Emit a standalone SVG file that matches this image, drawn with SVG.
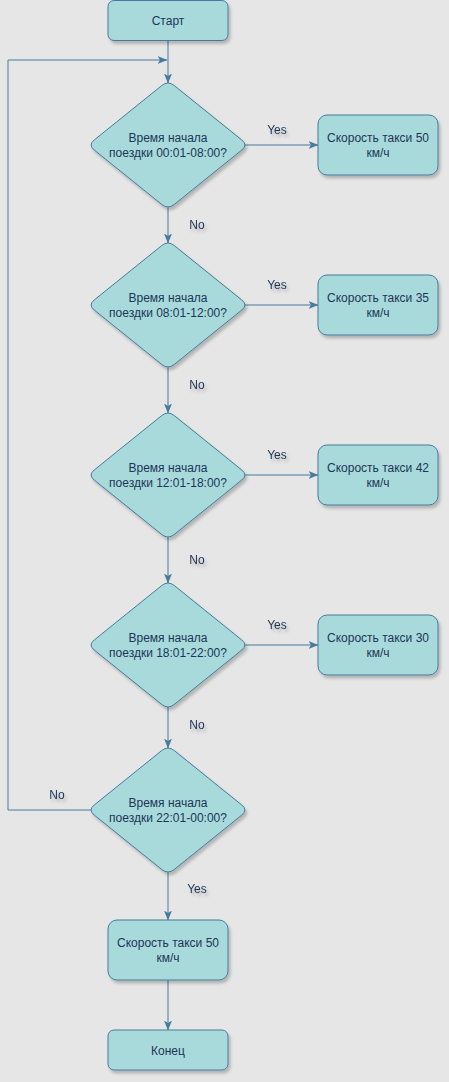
<svg xmlns="http://www.w3.org/2000/svg" width="449" height="1082" viewBox="0 0 449 1082">
<defs>
<filter id="sh" x="-20%" y="-20%" width="150%" height="150%">
<feDropShadow dx="2" dy="3" stdDeviation="1.5" flood-color="#000000" flood-opacity="0.22"/>
</filter>
<marker id="arr" viewBox="0 0 10 8" markerWidth="10" markerHeight="8" refX="9.5" refY="4" orient="auto" markerUnits="userSpaceOnUse">
<path d="M0,0 L10,4 L0,8 L2.5,4 Z" fill="#457B9D"/>
</marker>
<path id="dia" d="M-6.2,-59.5 Q0,-64.5 6.2,-59.5 L73.8,-5 Q80,0 73.8,5 L6.2,59.5 Q0,64.5 -6.2,59.5 L-73.8,5 Q-80,0 -73.8,-5 Z"/>
</defs>
<style>
.n{fill:#A8DADC;stroke:#457B9D;stroke-width:1;filter:url(#sh)}
.t{font-family:"Liberation Sans",Arial,sans-serif;font-size:12px;fill:#1D3557;text-anchor:middle}
.l{font-family:"Liberation Sans",Arial,sans-serif;font-size:12px;fill:#1D3557;text-anchor:middle;filter:url(#sh)}
.e{fill:none;stroke:#457B9D;stroke-width:1;marker-end:url(#arr)}
</style>
<rect width="449" height="1082" fill="#E6E6E6"/>
<g id="connectors">
<path class="e" d="M168,40 V83"/>
<path class="e" d="M91,810 H8 V60 H167"/>
<path class="e" d="M245,145 H318"/>
<path class="e" d="M168,207 V243"/>
<path class="e" d="M245,305 H318"/>
<path class="e" d="M168,367 V413"/>
<path class="e" d="M245,475 H318"/>
<path class="e" d="M168,537 V583"/>
<path class="e" d="M245,645 H318"/>
<path class="e" d="M168,707 V748"/>
<path class="e" d="M168,872 V920"/>
<path class="e" d="M168,980 V1030"/>
<text class="l" x="277" y="133.5">Yes</text>
<text class="l" x="197" y="229">No</text>
<text class="l" x="277" y="288.5">Yes</text>
<text class="l" x="197" y="388.5">No</text>
<text class="l" x="277" y="458.5">Yes</text>
<text class="l" x="197" y="563.5">No</text>
<text class="l" x="277" y="628.5">Yes</text>
<text class="l" x="197" y="728.5">No</text>
<text class="l" x="57" y="799">No</text>
<text class="l" x="197" y="893">Yes</text>
</g>
<g id="start">
<rect class="n" x="108" y="0.5" width="120" height="40" rx="6"/>
<text class="t" x="168" y="24.5">Старт</text>
</g>
<g id="d1">
<use href="#dia" class="n" x="168" y="145"/>
<text class="t" x="168" y="141.5">Время начала</text>
<text class="t" x="168" y="156.5">поездки 00:01-08:00?</text>
</g>
<g id="b1">
<rect class="n" x="318" y="115" width="120" height="60" rx="9"/>
<text class="t" x="378" y="141.5">Скорость такси 50</text>
<text class="t" x="378" y="156.5">км/ч</text>
</g>
<g id="d2">
<use href="#dia" class="n" x="168" y="305"/>
<text class="t" x="168" y="301.5">Время начала</text>
<text class="t" x="168" y="316.5">поездки 08:01-12:00?</text>
</g>
<g id="b2">
<rect class="n" x="318" y="275" width="120" height="60" rx="9"/>
<text class="t" x="378" y="301.5">Скорость такси 35</text>
<text class="t" x="378" y="316.5">км/ч</text>
</g>
<g id="d3">
<use href="#dia" class="n" x="168" y="475"/>
<text class="t" x="168" y="471.5">Время начала</text>
<text class="t" x="168" y="486.5">поездки 12:01-18:00?</text>
</g>
<g id="b3">
<rect class="n" x="318" y="445" width="120" height="60" rx="9"/>
<text class="t" x="378" y="471.5">Скорость такси 42</text>
<text class="t" x="378" y="486.5">км/ч</text>
</g>
<g id="d4">
<use href="#dia" class="n" x="168" y="645"/>
<text class="t" x="168" y="641.5">Время начала</text>
<text class="t" x="168" y="656.5">поездки 18:01-22:00?</text>
</g>
<g id="b4">
<rect class="n" x="318" y="615" width="120" height="60" rx="9"/>
<text class="t" x="378" y="641.5">Скорость такси 30</text>
<text class="t" x="378" y="656.5">км/ч</text>
</g>
<g id="d5">
<use href="#dia" class="n" x="168" y="810"/>
<text class="t" x="168" y="806.5">Время начала</text>
<text class="t" x="168" y="821.5">поездки 22:01-00:00?</text>
</g>
<g id="b5">
<rect class="n" x="108" y="920" width="120" height="60" rx="9"/>
<text class="t" x="168" y="946.5">Скорость такси 50</text>
<text class="t" x="168" y="961.5">км/ч</text>
</g>
<g id="end">
<rect class="n" x="108" y="1030" width="120" height="40" rx="6"/>
<text class="t" x="168" y="1054.5">Конец</text>
</g>
</svg>
